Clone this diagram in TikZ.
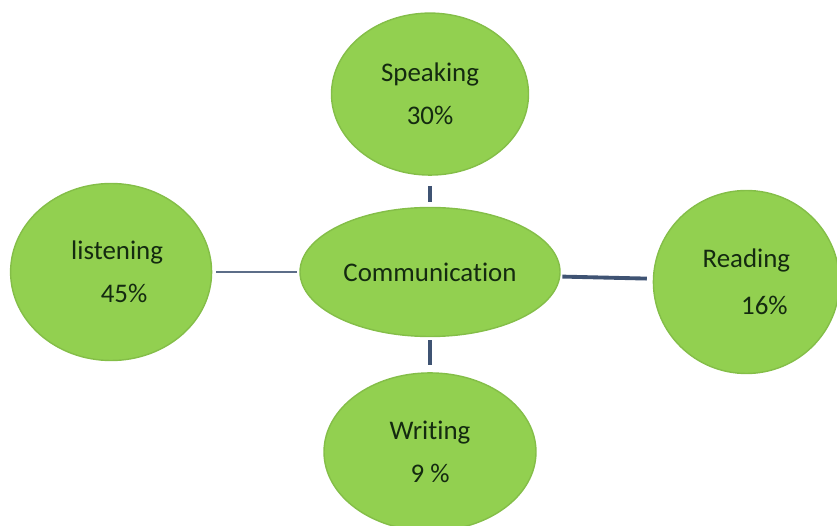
\documentclass[tikz,border=0pt]{standalone}
\usepackage{fontspec}
\setmainfont{Carlito}[Ligatures=NoCommon]
\usepackage{xcolor}
\definecolor{bubbleGreen}{HTML}{92D050}
\definecolor{bubbleEdge}{HTML}{84BE48}
\definecolor{labelDark}{HTML}{142A10}
\definecolor{linkBlue}{HTML}{3F5373}
\usetikzlibrary{shapes,positioning,calc}
\tikzset{%
  skillBubble/.style={%
    ellipse,
    draw=bubbleEdge,
    line width=0.8pt,
    fill=bubbleGreen,
    text=labelDark,
    align=center,
    inner sep=0pt,
    font=\fontsize{15.3}{24.5}\selectfont
  },
  linkLine/.style={%
    color=linkBlue,
    line width=2.2pt
  },
  thinLink/.style={%
    color=linkBlue!85,
    line width=0.8pt
  }
}

\begin{document}
\begin{tikzpicture}
            \useasboundingbox (0,0) rectangle (16.74,-10.52);
            \node[skillBubble, minimum width=5.2cm, minimum height=2.58cm] (comm) at (8.6,-5.44) {Communication};
            \node[skillBubble, minimum width=3.94cm, minimum height=3.24cm, above=0.62cm of comm] (speaking) {Speaking\\30\%};
            \node[skillBubble, minimum width=4.24cm, minimum height=3.16cm, below=0.7cm of comm] (writing) {Writing\\9 \%};
            \node[skillBubble, minimum width=4.02cm, minimum height=3.54cm, left=1.74cm of comm] (listening) {\hspace*{0.24cm}listening\\\hspace*{0.52cm}45\%};
            \node[skillBubble, minimum width=3.72cm, minimum height=3.66cm, right=1.84cm of comm, yshift=-0.2cm] (reading) {Reading\\[0.08cm]\hspace*{0.72cm}16\%};

            \draw[linkLine, shorten <=0.2cm, shorten >=0.1cm] (speaking.south) -- (comm.north);
            \draw[linkLine, shorten <=0.06cm, shorten >=0.14cm] (comm.south) -- (writing.north);
            \draw[thinLink, shorten <=0.08cm, shorten >=0.04cm] (listening.east) -- (comm.west);
            \draw[linkLine, shorten <=0.04cm, shorten >=0.12cm] (comm.-2) -- (reading.178);
        \end{tikzpicture}
\end{document}
